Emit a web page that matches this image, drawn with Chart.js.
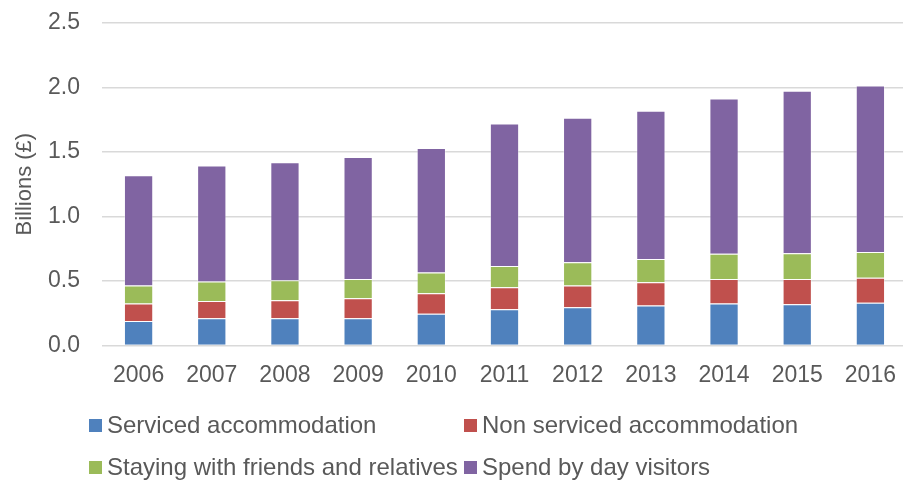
<!DOCTYPE html>
<html>
<head>
<meta charset="utf-8">
<script src="https://cdn.jsdelivr.net/npm/chart.js@4.4.1/dist/chart.umd.min.js"></script>
<style>
  html, body { margin: 0; padding: 0; background: #fff; overflow: hidden; }
  #wrap { position: relative; width: 903px; height: 482px; overflow: hidden; }
  #spendChart { display: block; }
  #legend { position: absolute; left: 0; top: 0; width: 903px; height: 482px; pointer-events: none;
    font-family: "Liberation Sans", Arial, sans-serif; font-size: 24px; color: #595959; }
  .item { position: absolute; white-space: nowrap; line-height: 28px; }
  .box { position: absolute; width: 13px; height: 13px; top: 8px; left: 0; }
  .label { position: absolute; left: 18px; top: 0; }
</style>
</head>
<body>
<div id="wrap">
  <canvas id="spendChart" width="907" height="482"></canvas>
  <div id="legend"></div>
</div>
<script>
// Visitor spend (billions £)
const years = ["2006", "2007", "2008", "2009", "2010", "2011", "2012", "2013", "2014", "2015", "2016"];
const serviced = [0.19, 0.21, 0.21, 0.21, 0.245, 0.28, 0.295, 0.31, 0.325, 0.32, 0.33];
const nonServiced = [0.135, 0.135, 0.14, 0.155, 0.16, 0.17, 0.17, 0.18, 0.19, 0.195, 0.195];
const friendsRelatives = [0.14, 0.15, 0.155, 0.15, 0.16, 0.165, 0.18, 0.18, 0.195, 0.2, 0.2];
const dayVisitors = [0.855, 0.9, 0.915, 0.945, 0.965, 1.105, 1.12, 1.15, 1.205, 1.26, 1.29];
const seriesNames = [
  "Serviced accommodation",
  "Non serviced accommodation",
  "Staying with friends and relatives",
  "Spend by day visitors",
];

function initChart() {
  const textColor = "#595959";
  const gridColor = "#d9d9d9";
  const colors = ["#4f81bd", "#c0504d", "#9bbb59", "#8064a2"];
  const font = "'Liberation Sans', Arial, sans-serif";
  const values = [serviced, nonServiced, friendsRelatives, dayVisitors];

  const chart = new Chart(document.getElementById("spendChart").getContext("2d"), {
    type: "bar",
    data: {
      labels: years,
      datasets: seriesNames.map(function (name, i) {
        return {
          label: name,
          data: values[i],
          backgroundColor: colors[i],
          borderColor: "rgba(255,255,255,0.35)",
          borderWidth: 1,
          categoryPercentage: 1,
          barPercentage: 0.4,
        };
      }),
    },
    options: {
      responsive: false,
      animation: false,
      // plot runs a few px past the right edge in the original
      layout: { padding: { left: 0, right: 0, top: 23, bottom: 77 } },
      plugins: { legend: { display: false }, tooltip: { enabled: false } },
      scales: {
        x: {
          stacked: true,
          ticks: { font: { family: font, size: 23 }, color: textColor, padding: 16 },
          grid: { display: false, drawTicks: false },
          border: { display: false },
          afterFit: function (scale) {
            scale.paddingLeft = 0;
            scale.paddingRight = 0;
          },
        },
        y: {
          stacked: true,
          min: 0,
          max: 2.5,
          afterFit: function (scale) {
            scale.width = 102;
            scale.paddingTop = 0;
            scale.paddingBottom = 0;
          },
          ticks: {
            stepSize: 0.5,
            padding: 22,
            font: { family: font, size: 23 },
            color: textColor,
            callback: function (value) { return value.toFixed(1); },
          },
          grid: { color: gridColor, lineWidth: 1.5, drawTicks: false },
          border: { display: false },
          title: {
            display: true,
            text: "Billions (£)",
            color: textColor,
            font: { family: font, size: 22 },
            padding: { top: 12, bottom: 0 },
          },
        },
      },
    },
  });

  // legend laid out in two aligned columns, like the original
  const legend = document.getElementById("legend");
  const cols = [89, 464];
  const rows = [411, 453];
  chart.data.datasets.forEach(function (ds, i) {
    const item = document.createElement("div");
    item.className = "item";
    item.style.left = cols[i % 2] + "px";
    item.style.top = rows[Math.floor(i / 2)] + "px";
    const box = document.createElement("span");
    box.className = "box";
    box.style.background = ds.backgroundColor;
    const label = document.createElement("span");
    label.className = "label";
    label.textContent = ds.label;
    item.appendChild(box);
    item.appendChild(label);
    legend.appendChild(item);
  });
}

if (document.readyState === "loading") {
  document.addEventListener("DOMContentLoaded", initChart);
} else {
  initChart();
}
</script>
</body>
</html>
